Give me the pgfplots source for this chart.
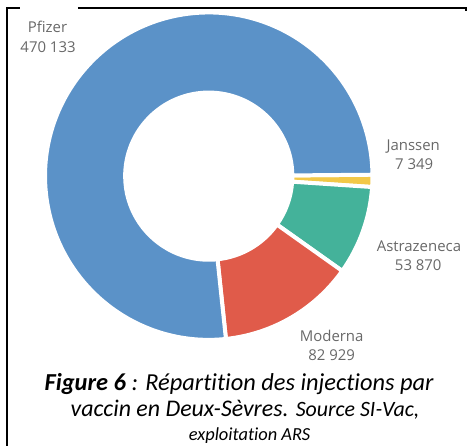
\documentclass[border=0pt]{standalone}
\usepackage{fontspec}
\setmainfont{Carlito}[Ligatures=NoCommon]
\newfontfamily\lab{Open Sans}
\usepackage{pgfplots}
\usepackage{pgfplotstable}
\pgfplotsset{compat=1.18}
\definecolor{pfz}{RGB}{91,146,200}
\definecolor{jan}{RGB}{242,200,72}
\definecolor{azc}{RGB}{68,178,154}
\definecolor{mod}{RGB}{224,91,74}
\definecolor{labgray}{RGB}{104,104,104}

\pgfplotstableread{
name value
Janssen 7349
Astrazeneca 53870
Moderna 82929
Pfizer 470133
}\vaccins

\begin{document}
\pgfplotstablegetelem{0}{value}\of\vaccins \edef\vJ{\pgfplotsretval}%
\pgfplotstablegetelem{1}{value}\of\vaccins \edef\vA{\pgfplotsretval}%
\pgfplotstablegetelem{2}{value}\of\vaccins \edef\vM{\pgfplotsretval}%
\pgfplotstablegetelem{3}{value}\of\vaccins \edef\vP{\pgfplotsretval}%
\edef\tot{\fpeval{\vJ+\vA+\vM+\vP}}%
\def\aZero{0.5}%
\edef\aOne{\fpeval{\aZero-360*\vJ/\tot}}%
\edef\aTwo{\fpeval{\aOne-360*\vA/\tot}}%
\edef\aThree{\fpeval{\aTwo-360*\vM/\tot}}%
\edef\aFour{\fpeval{\aThree-360*\vP/\tot}}%
\def\cx{207.5}\def\cy{271}\def\Ro{164.5}\def\Ri{84}%
\newcommand\slice[3]{%
  \filldraw[fill=#3, draw=white, line width=4pt]
  ([shift={(#1:\Ro pt)}]axis cs:\cx,\cy) arc[start angle=#1, end angle=#2, radius=\Ro pt]
  -- ([shift={(#2:\Ri pt)}]axis cs:\cx,\cy) arc[start angle=#2, end angle=#1, radius=\Ri pt] -- cycle;}
\begin{tikzpicture}
\useasboundingbox (0,0) rectangle (467pt,448pt);
\begin{axis}[at={(0,0)}, anchor=south west, x=1pt, y=1pt,
  xmin=0, xmax=467, ymin=0, ymax=448, hide axis, clip=false]
\slice{\aZero}{\aOne}{jan}
\slice{\aOne}{\aTwo}{azc}
\slice{\aTwo}{\aThree}{mod}
\slice{\aThree}{\aFour}{pfz}
% labels
\begin{scope}[every node/.style={anchor=base, text=labgray, font=\lab\fontsize{15}{18}\selectfont, inner sep=0pt}]
\node at (axis cs:45.5,415) {Pfizer};
\node at (axis cs:46,395) {470 133};
\node at (axis cs:413,297) {Janssen};
\node at (axis cs:414,278) {7 349};
\node at (axis cs:418.7,195.3) {Astrazeneca};
\node at (axis cs:418,176.3) {53 870};
\node at (axis cs:331,104.7) {Moderna};
\node at (axis cs:331,85.3) {82 929};
\end{scope}
% caption
\node[anchor=base, inner sep=0pt] at (axis cs:238,56) {\fontsize{24.5}{28}\selectfont\itshape\textbf{Figure 6} : Répartition des injections par};
\node[anchor=base, inner sep=0pt] at (axis cs:244,29) {\fontsize{24}{28}\selectfont\itshape vaccin en Deux-Sèvres. {\fontsize{22}{26}\selectfont Source SI-Vac,}};
\node[anchor=base, inner sep=0pt] at (axis cs:248.5,5.5) {\fontsize{18.5}{22}\selectfont\itshape exploitation ARS};
% frame
\draw[line width=2.2pt] (axis cs:4.7,-5) -- (axis cs:4.7,439.7) -- (axis cs:18,439.7);
\draw[line width=2.2pt] (axis cs:76,439.7) -- (axis cs:466,439.7) -- (axis cs:466,436.5);
\end{axis}
\end{tikzpicture}
\end{document}
